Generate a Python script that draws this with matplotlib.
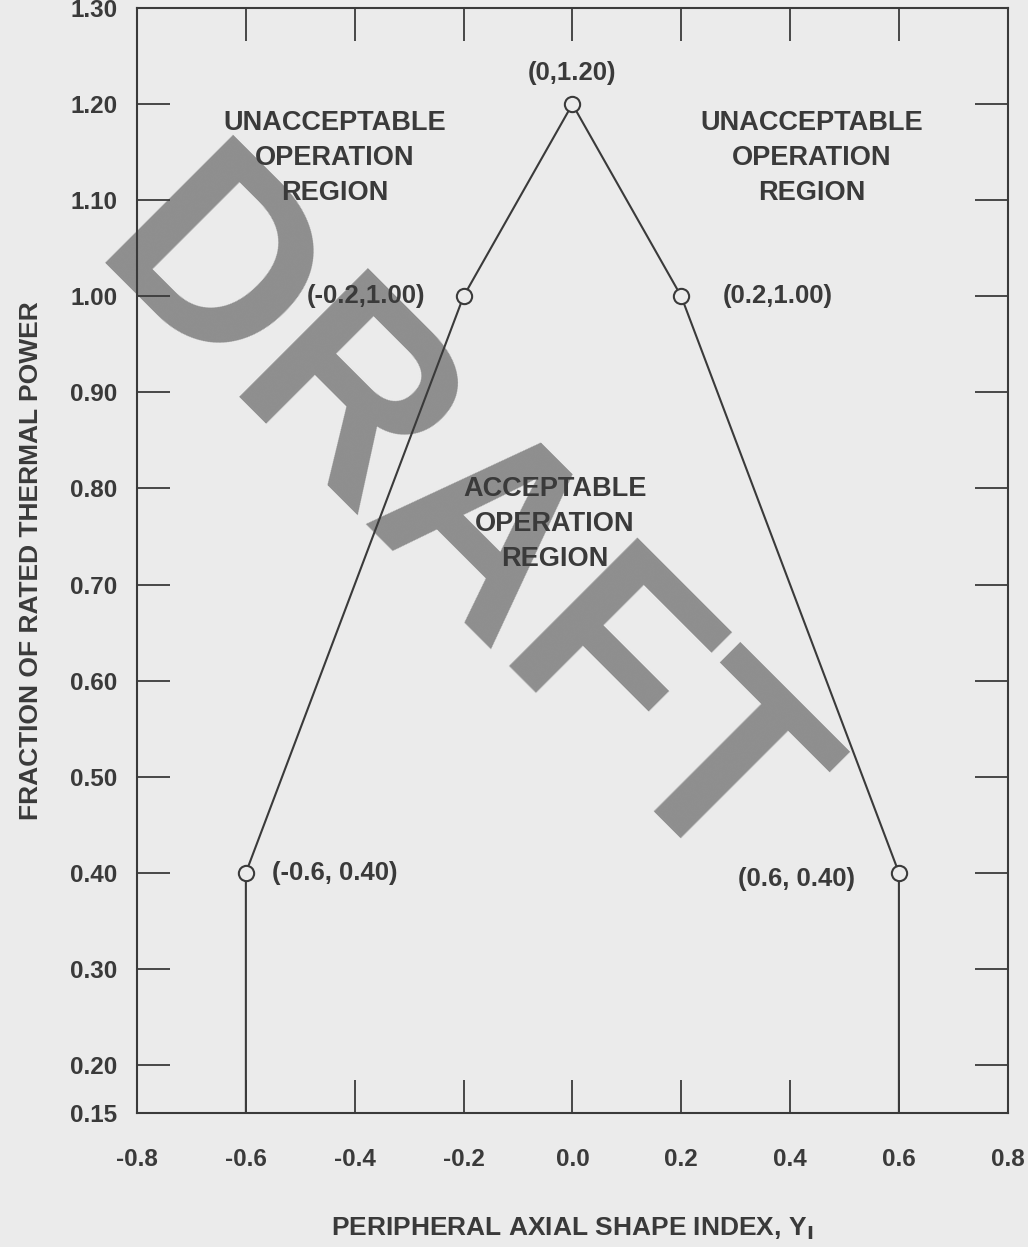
import matplotlib
matplotlib.use("Agg")
import matplotlib.pyplot as plt

# Data
x_pts = [-0.6, -0.6, -0.2, 0.0, 0.2, 0.6, 0.6]
y_pts = [0.15, 0.40, 1.00, 1.20, 1.00, 0.40, 0.15]
mark_x = [-0.6, -0.2, 0.0, 0.2, 0.6]
mark_y = [0.40, 1.00, 1.20, 1.00, 0.40]
point_labels = ["(-0.6, 0.40)", "(-0.2,1.00)", "(0,1.20)", "(0.2,1.00)", "(0.6, 0.40)"]
x_ticks = [-0.8, -0.6, -0.4, -0.2, 0.0, 0.2, 0.4, 0.6, 0.8]
x_ticklabels = ["-0.8", "-0.6", "-0.4", "-0.2", "0.0", "0.2", "0.4", "0.6", "0.8"]
y_ticks = [0.15, 0.20, 0.30, 0.40, 0.50, 0.60, 0.70, 0.80, 0.90, 1.00, 1.10, 1.20, 1.30]
y_ticklabels = ["0.15", "0.20", "0.30", "0.40", "0.50", "0.60", "0.70", "0.80",
                "0.90", "1.00", "1.10", "1.20", "1.30"]

plt.rcParams['font.family'] = ['Liberation Sans', 'DejaVu Sans']
bg = "#ebebeb"
ink = "#3a3a3a"

fig = plt.figure(figsize=(10.28, 12.47), dpi=100, facecolor=bg)
ax = fig.add_axes([0.1333, 0.1075, 0.847, 0.886], facecolor=bg)

# Watermark (behind the data line)
ax.text(0.439, 0.575, "DRAFT", transform=fig.transFigure, fontsize=190,
        fontweight='bold', color="#6f6f6f", alpha=0.75, rotation=-45,
        ha='center', va='center', zorder=1, clip_on=False)

ax.plot(x_pts, y_pts, color=ink, lw=1.5, zorder=3)
ax.plot(mark_x, mark_y, linestyle='none', marker='o', markersize=11,
        markerfacecolor=bg, markeredgecolor=ink, markeredgewidth=1.5, zorder=4)

ax.set_xlim(-0.8, 0.8)
ax.set_ylim(0.15, 1.30)
ax.set_xticks(x_ticks)
ax.set_xticklabels(x_ticklabels, fontsize=17.5, fontweight='bold', color=ink)
ax.set_yticks(y_ticks)
ax.set_yticklabels(y_ticklabels, fontsize=17.5, fontweight='bold', color=ink)
ax.tick_params(direction='in', top=True, right=True, length=24, width=1.3,
               color=ink)
ax.tick_params(axis='x', pad=25)
ax.tick_params(axis='y', pad=14)
for s in ax.spines.values():
    s.set_color(ink)
    s.set_linewidth(1.5)

# Point labels
offsets = [(26, 0, 'left', 'center'), (-38, 0, 'right', 'center'),
           (0, 31, 'center', 'center'), (42, 0, 'left', 'center'),
           (-44, -6, 'right', 'center')]
for xv, yv, lab, (dx, dy, ha, va) in zip(mark_x, mark_y, point_labels, offsets):
    ax.annotate(lab, (xv, yv), xytext=(dx, dy), textcoords='offset pixels',
                ha=ha, va=va, fontsize=18.5, fontweight='bold', color=ink, zorder=5)

# Region labels
region_kw = dict(ha='center', va='center', fontsize=19.5, fontweight='bold',
                 color=ink, linespacing=1.45, zorder=5)
ax.text(-0.436, 1.144, "UNACCEPTABLE\nOPERATION\nREGION", **region_kw)
ax.text(0.44, 1.144, "UNACCEPTABLE\nOPERATION\nREGION", **region_kw)
ax.text(-0.032, 0.763, "ACCEPTABLE\nOPERATION\nREGION", **region_kw)

ax.set_xlabel(r"PERIPHERAL AXIAL SHAPE INDEX, Y$_{\mathbf{I}}$", fontsize=19,
              fontweight='bold', color=ink, labelpad=32)
ax.set_ylabel("FRACTION OF RATED THERMAL POWER", fontsize=19, fontweight='bold',
              color=ink, labelpad=20)

fig.savefig("out.png", dpi=100, facecolor=bg)
